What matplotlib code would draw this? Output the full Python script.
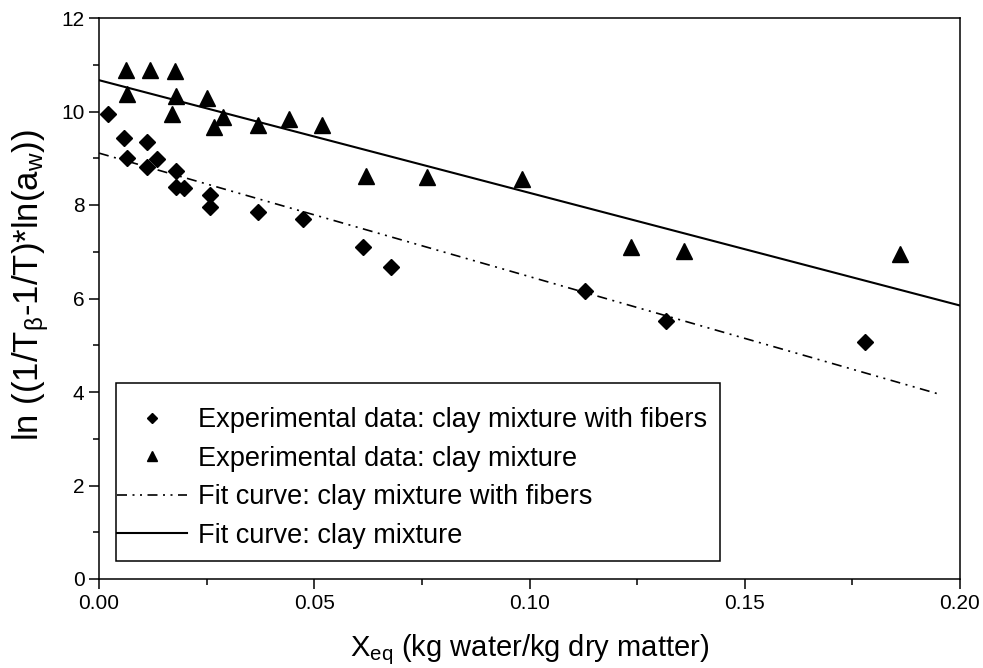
import matplotlib
matplotlib.use("Agg")
import matplotlib.pyplot as plt
from matplotlib.patches import Rectangle
from matplotlib.ticker import MultipleLocator, FormatStrFormatter

plt.rcParams['font.family'] = ['Liberation Sans', 'DejaVu Sans']
plt.rcParams['mathtext.fontset'] = 'custom'
plt.rcParams['mathtext.rm'] = 'Liberation Sans'
plt.rcParams['mathtext.it'] = 'Liberation Sans'

# experimental data, clay mixture with fibers
x_fib = [0.0020, 0.0059, 0.0111, 0.0066, 0.0112, 0.0135, 0.0180, 0.0180, 0.0198,
         0.0259, 0.0259, 0.0369, 0.0475, 0.0614, 0.0679, 0.1129, 0.1317, 0.1780]
y_fib = [9.95, 9.43, 9.35, 9.00, 8.82, 8.98, 8.73, 8.39, 8.37,
         8.21, 7.95, 7.84, 7.69, 7.10, 6.67, 6.17, 5.51, 5.06]

# experimental data, clay mixture
x_clay = [0.0062, 0.0119, 0.0177, 0.0066, 0.0180, 0.0252, 0.0170, 0.0289, 0.0268,
          0.0370, 0.0441, 0.0519, 0.0620, 0.0763, 0.0983, 0.1236, 0.1360, 0.1861]
y_clay = [10.89, 10.89, 10.87, 10.37, 10.33, 10.28, 9.94, 9.88, 9.67,
          9.71, 9.84, 9.71, 8.62, 8.59, 8.56, 7.10, 7.02, 6.95]

# fit curves (end points)
fit_fib_x = [0.0, 0.1957]
fit_fib_y = [9.11, 3.94]
fit_clay_x = [0.0, 0.20]
fit_clay_y = [10.67, 5.85]

labels = ['Experimental data: clay mixture with fibers',
          'Experimental data: clay mixture',
          'Fit curve: clay mixture with fibers',
          'Fit curve: clay mixture']

fig = plt.figure(figsize=(9.83, 6.68), dpi=100)
ax = fig.add_axes([99/983, 1-579/668, (960-99)/983, (579-18)/668])

h1, = ax.plot(x_fib, y_fib, 'D', color='black', ms=7.8, ls='none')
h2, = ax.plot(x_clay, y_clay, '^', color='black', ms=11, ls='none')
h3, = ax.plot(fit_fib_x, fit_fib_y, color='black', lw=1.2,
              ls=(0, (6, 3.3, 1.2, 3.3, 1.2, 3.3)))
h4, = ax.plot(fit_clay_x, fit_clay_y, color='black', lw=1.5)

ax.set_xlim(0, 0.20)
ax.set_ylim(0, 12)
ax.xaxis.set_major_locator(MultipleLocator(0.05))
ax.xaxis.set_minor_locator(MultipleLocator(0.025))
ax.yaxis.set_major_locator(MultipleLocator(2))
ax.yaxis.set_minor_locator(MultipleLocator(1))
ax.xaxis.set_major_formatter(FormatStrFormatter('%.2f'))
ax.tick_params(which='major', direction='out', length=7, width=1.1, labelsize=15)
ax.tick_params(which='minor', direction='out', length=4, width=1.1)
for s in ax.spines.values():
    s.set_linewidth(1.1)

ax.set_xlabel(r'X$_{\mathrm{eq}}$ (kg water/kg dry matter)', fontsize=21, labelpad=14)
ax.set_ylabel(r'ln ((1/T$_{\mathrm{β}}$-1/T)*ln(a$_{\mathrm{w}}$))', fontsize=25)
ax.yaxis.set_label_coords(-0.056, 0.525)

# legend without its own frame, frame drawn as a rectangle
leg = ax.legend([h1, h2, h3, h4], labels, loc='center left',
                bbox_to_anchor=(0.021, 0.18), frameon=False, fontsize=19.5,
                borderpad=0, borderaxespad=0, handlelength=2.6,
                handletextpad=0.4, labelspacing=0.46, markerscale=0.62)
ax.add_patch(Rectangle((0.02, 0.032), 0.701, 0.317, transform=ax.transAxes,
                       fill=False, edgecolor='black', lw=1.1, zorder=5))

fig.savefig('out.png', dpi=100)
